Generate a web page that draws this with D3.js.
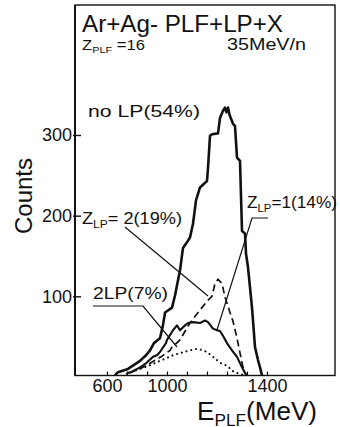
<!DOCTYPE html>
<html>
<head>
<meta charset="utf-8">
<script src="https://cdn.jsdelivr.net/npm/d3@7/dist/d3.min.js"></script>
<style>
  html, body { margin: 0; padding: 0; background: #fff; }
  svg { display: block; }
  text { font-family: "Liberation Sans", Arial, sans-serif; fill: #111; }
</style>
</head>
<body>
<svg id="chart" width="340" height="427"></svg>
<script>
// ---- data (E_PLF in MeV, counts) ----
const noLP_E   = [653,673,740,780,820,860,887,913,953,973,987,1020,1032,1044,1052,1064,1084,1092,1104,1116,1132,1160,1164,1172,1180,1204,1212,1224,1232,1238,1244,1250,1264,1272,1280,1292,1300,1312,1316,1324,1332,1340,1344,1352,1364,1372,1380];
const noLP_C   = [2,6,10,15,20,27,33,42,48,64,80,86,101,120,132,160,169,173,190,219,235,243,259,299,301,302,321,330,334,328,334,325,314,311,272,268,181,178,153,136,111,86,70,37,21,12,2];

const z1_E     = [733,760,820,860,907,933,953,993,1000,1024,1040,1052,1072,1084,1104,1132,1152,1164,1184,1200,1212,1224,1240,1260,1280,1300,1312,1320];
const z1_C     = [5,6,12,17,25,27,31,42,46,58,64,58,64,67,68,67,70,68,60,58,57,51,42,33,25,12,5,2];

const z2_E     = [747,827,887,960,1012,1020,1052,1092,1132,1160,1180,1192,1204,1220,1232,1252,1264,1280,1292,1304,1312,1316];
const z2_C     = [5,11,17,25,33,37,46,67,83,94,100,116,121,116,99,80,69,48,30,12,5,2];

const twoLP_E  = [733,820,893,953,980,1024,1068,1092,1120,1144,1160,1176,1200,1216,1240,1268,1292,1308];
const twoLP_C  = [4,10,15,20,22,27,31,33,35,33,31,27,21,17,14,6,4,2];

const xTickLabels = [600, 1000, 1400];
const xMinorTicks = [600, 733, 867, 1000, 1080, 1160, 1240, 1320, 1400];
const yTickLabels = [100, 200, 300];

// ---- layout ----
const svg = d3.select("#chart");
const frame = {left: 75, right: 335, top: 5, bottom: 375.5};
const ink = "#111";

// the printed axis is not uniform: 600..1000 is compressed relative to 1000..1400
const x = d3.scaleLinear().domain([600, 1000, 1400]).range([107, 167, 267]);
const y = d3.scaleLinear().domain([0, 300]).range([377, 135]);

svg.append("defs").append("clipPath").attr("id", "clip")
  .append("rect").attr("x", frame.left).attr("y", frame.top)
  .attr("width", frame.right - frame.left).attr("height", frame.bottom - frame.top);

// frame
svg.append("rect")
  .attr("x", frame.left).attr("y", frame.top)
  .attr("width", frame.right - frame.left).attr("height", frame.bottom - frame.top)
  .attr("fill", "none").attr("stroke", ink).attr("stroke-width", 1.4);
svg.append("line").attr("x1", frame.left).attr("x2", frame.left)
  .attr("y1", frame.top).attr("y2", frame.bottom)
  .attr("stroke", ink).attr("stroke-width", 2);

// x axis (inward ticks)
const xAxisMinor = d3.axisBottom(x).tickValues(xMinorTicks).tickSize(-4).tickFormat("");
const gx = svg.append("g").attr("transform", `translate(0,${frame.bottom})`).call(xAxisMinor);
gx.select(".domain").remove();
gx.selectAll("line").attr("stroke", ink).attr("stroke-width", 1.2);

const xAxisLab = d3.axisBottom(x).tickValues(xTickLabels).tickSize(0).tickPadding(0).tickFormat(d3.format("d"));
const gxl = svg.append("g").attr("transform", `translate(0,${frame.bottom})`).call(xAxisLab);
gxl.select(".domain").remove();
gxl.selectAll("text").attr("font-size", 18).attr("fill", ink)
  .attr("font-family", "Liberation Sans, Arial, sans-serif")
  .attr("dy", null).attr("y", 16.5);

// y axis (inward ticks)
const yAxis = d3.axisLeft(y).tickValues(yTickLabels).tickSize(-6).tickPadding(9).tickFormat(d3.format("d"));
const gy = svg.append("g").attr("transform", `translate(${frame.left},0)`).call(yAxis);
gy.select(".domain").remove();
gy.selectAll("line").attr("stroke", ink).attr("stroke-width", 1.4).attr("x1", -2);
gy.selectAll("text").attr("font-size", 18).attr("fill", ink)
  .attr("font-family", "Liberation Sans, Arial, sans-serif").attr("x", -3);

// ---- curves ----
const line = d3.line().x(d => x(d[0])).y(d => y(d[1]));
const zip = (a, b) => a.map((v, i) => [v, b[i]]);
const plot = svg.append("g").attr("clip-path", "url(#clip)");

plot.append("path").datum(zip(twoLP_E, twoLP_C)).attr("d", line)
  .attr("fill", "none").attr("stroke", ink).attr("stroke-width", 2.1)
  .attr("stroke-linecap", "round").attr("stroke-dasharray", "0.1,4.8");
plot.append("path").datum(zip(z2_E, z2_C)).attr("d", line)
  .attr("fill", "none").attr("stroke", ink).attr("stroke-width", 1.7)
  .attr("stroke-dasharray", "7,4");
plot.append("path").datum(zip(z1_E, z1_C)).attr("d", line)
  .attr("fill", "none").attr("stroke", ink).attr("stroke-width", 2.1)
  .attr("stroke-linejoin", "round");
plot.append("path").datum(zip(noLP_E, noLP_C)).attr("d", line)
  .attr("fill", "none").attr("stroke", ink).attr("stroke-width", 2.6)
  .attr("stroke-linejoin", "round");

// ---- leader lines ----
const lead = (pts) => svg.append("polyline").attr("points", pts.map(p => p.join(",")).join(" "))
  .attr("fill", "none").attr("stroke", ink).attr("stroke-width", 1.2);
lead([[125, 227], [208, 296]]);
lead([[268, 218], [252, 218], [217, 330]]);
lead([[93, 306], [143, 306], [177, 347]]);

// ---- texts ----
function label(xp, yp, parts, size, len) {
  const t = svg.append("text").attr("x", xp).attr("y", yp).attr("font-size", size);
  parts.forEach(p => {
    const s = t.append("tspan").text(p.t);
    if (p.sub) s.attr("font-size", size * 0.66).attr("dy", size * 0.22);
    if (p.back) s.attr("dy", -size * 0.22);
  });
  if (len) t.attr("textLength", len).attr("lengthAdjust", "spacingAndGlyphs");
  return t;
}

label(82, 32, [{t: "Ar+Ag- PLF+LP+X"}], 24, 201);
label(82, 50, [{t: "Z"}, {t: "PLF", sub: true}, {t: " =16", back: true}], 15, 63);
label(227, 50, [{t: "35MeV/n"}], 16, 79);
label(88, 117, [{t: "no LP(54%)"}], 17, 112);
label(82, 224, [{t: "Z"}, {t: "LP", sub: true}, {t: "= 2(19%)", back: true}], 17, 100);
label(247, 208, [{t: "Z"}, {t: "LP", sub: true}, {t: "=1(14%)", back: true}], 17, 90);
label(93, 299, [{t: "2LP(7%)"}], 17, 75);

// axis titles
label(197, 420, [{t: "E"}, {t: "PLF", sub: true}, {t: "(MeV)", back: true}], 25, 120);
svg.append("text").attr("transform", "translate(32,196) rotate(-90)")
  .attr("text-anchor", "middle").attr("font-size", 24).text("Counts");
</script>
</body>
</html>
